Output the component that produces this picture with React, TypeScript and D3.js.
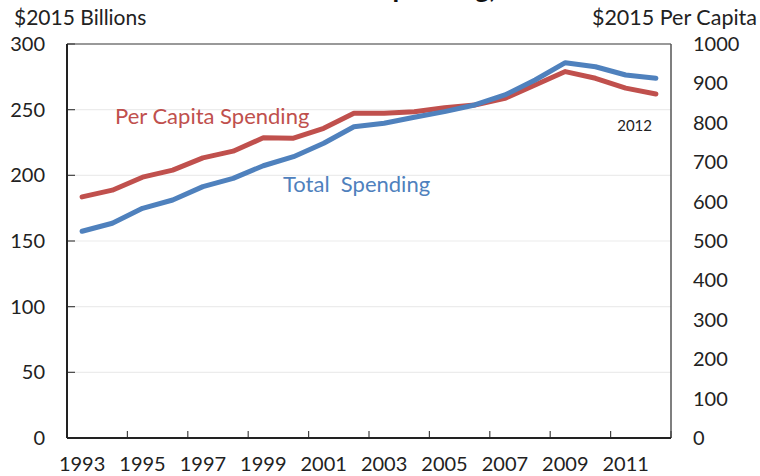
import React from "react";
import * as d3 from "d3";

const years = d3.range(1993, 2013).map(String);
const totalSpending = [157.4, 163.5, 174.9, 181.2, 191.4, 197.7, 207.3, 214.2, 224.4, 237.0, 239.6, 244.2, 248.5, 253.6, 261.2, 272.6, 285.8, 282.7, 276.4, 273.9];
const perCapitaSpending = [612, 629, 662, 680, 711, 728, 762, 761, 786, 824, 824, 828, 838, 845, 862, 896, 930, 913, 888, 873];
const leftTicks = [0, 50, 100, 150, 200, 250, 300];
const rightTicks = [0, 100, 200, 300, 400, 500, 600, 700, 800, 900, 1000];
const xLabelYears = ["1993", "1995", "1997", "1999", "2001", "2003", "2005", "2007", "2009", "2011"];

const W = 760, H = 476;
const L = 67, R = 671, T = 44, B = 438;
const FONT = "Lato, 'Open Sans', sans-serif";
const RED = "#C0504D";
const BLUE = "#4F81BD";

export default function App() {
  const x = d3.scaleBand().domain(years).range([L, R]);
  const bw = x.bandwidth();
  const cx = (y: string) => (x(y) as number) + bw / 2;
  const yL = d3.scaleLinear().domain([0, 300]).range([B, T]);
  const yR = d3.scaleLinear().domain([0, 1000]).range([B, T]);

  const lineL = d3.line<number>().x((_, i) => cx(years[i])).y((d) => yL(d));
  const lineR = d3.line<number>().x((_, i) => cx(years[i])).y((d) => yR(d));

  const boundaryTicks = d3.range(0, years.length + 1, 2).map((i) => L + i * bw);

  return (
    <svg width={W} height={H} style={{ position: "absolute", left: 0, top: 0, background: "#fff" }} fontFamily={FONT}>
      <rect width={W} height={H} fill="#fff" />
      {/* title, clipped at the top edge as in the reference */}
      <text x={378} y={-2} fontSize={27} fontWeight="bold" fill="#111">Spending,</text>
      <text x={14} y={25} fontSize={21} fill="#222">$2015 Billions</text>
      <text x={757} y={25} fontSize={21.5} fill="#222" textAnchor="end">$2015 Per Capita</text>

      {/* gridlines */}
      {leftTicks.filter((t) => t > 0 && t < 300).map((t) => (
        <line key={"g" + t} x1={L} x2={R} y1={yL(t)} y2={yL(t)} stroke="#ececec" strokeWidth={1.2} />
      ))}
      {/* frame */}
      <line x1={L} x2={R} y1={T} y2={T} stroke="#777" strokeWidth={1.5} />
      <line x1={R} x2={R} y1={T} y2={B} stroke="#555" strokeWidth={1.5} />
      {/* left ticks */}
      {leftTicks.map((t) => (
        <line key={"lt" + t} x1={L} x2={L + 8} y1={yL(t)} y2={yL(t)} stroke="#444" strokeWidth={1.2} />
      ))}
      {/* bottom ticks */}
      {boundaryTicks.map((bx, i) => (
        <line key={"bt" + i} x1={bx} x2={bx} y1={B} y2={B - 7} stroke="#444" strokeWidth={1.2} />
      ))}
      <line x1={L} x2={L} y1={T} y2={B} stroke="#222" strokeWidth={2} />
      <line x1={L} x2={R} y1={B} y2={B} stroke="#222" strokeWidth={2} />

      {/* left tick labels */}
      {leftTicks.map((t) => (
        <text key={"ll" + t} x={45} y={yL(t)} dy="0.35em" fontSize={20} textAnchor="end" fill="#222">{t}</text>
      ))}
      {/* right tick labels */}
      {rightTicks.map((t) => (
        <text key={"rl" + t} x={693} y={yR(t)} dy="0.35em" fontSize={20} textAnchor="start" fill="#222">{t}</text>
      ))}
      {/* x labels */}
      {xLabelYears.map((y) => (
        <text key={"xl" + y} x={cx(y)} y={471} fontSize={20} textAnchor="middle" fill="#222">{y}</text>
      ))}

      {/* lines */}
      <path d={lineR(perCapitaSpending) || ""} fill="none" stroke={RED} strokeWidth={5} strokeLinejoin="round" strokeLinecap="round" />
      <path d={lineL(totalSpending) || ""} fill="none" stroke={BLUE} strokeWidth={5} strokeLinejoin="round" strokeLinecap="round" />

      {/* annotations */}
      <text x={115} y={124} fontSize={22} fill={RED}>Per Capita Spending</text>
      <text x={283} y={192} fontSize={22} fill={BLUE} style={{ whiteSpace: "pre" }}>{"Total  Spending"}</text>
      <text x={652} y={131} fontSize={15} fill="#222" textAnchor="end">2012</text>
    </svg>
  );
}
